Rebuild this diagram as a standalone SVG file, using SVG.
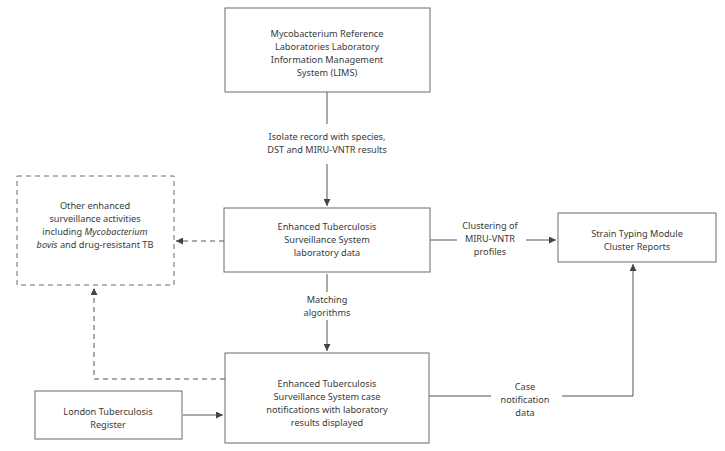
<svg xmlns="http://www.w3.org/2000/svg" width="725" height="451" viewBox="0 0 725 451">
<defs>
<style>
.box{fill:#fff;stroke:#6b6b6b;stroke-width:1}
.dbox{fill:#fff;stroke:#6b6b6b;stroke-width:1;stroke-dasharray:5,4}
.ln{fill:none;stroke:#555;stroke-width:1}
.dl{fill:none;stroke:#555;stroke-width:1;stroke-dasharray:5,4}
text{font-family:"Noto Sans","Open Sans",sans-serif;font-size:9.2px;fill:#3a3a3a;text-anchor:middle}
</style>
<marker id="ah" viewBox="0 0 10 10" refX="10" refY="5" markerWidth="7" markerHeight="7" markerUnits="userSpaceOnUse" orient="auto">
<path d="M0,0 L10,5 L0,10 z" fill="#444"/>
</marker>
</defs>
<rect width="725" height="451" fill="#fff"/>
<g id="connectors">
<line class="ln" x1="327" y1="92" x2="327" y2="124"/>
<line class="ln" x1="327" y1="164" x2="327" y2="206" marker-end="url(#ah)"/>
<line class="ln" x1="327" y1="274" x2="327" y2="292"/>
<line class="ln" x1="327" y1="320" x2="327" y2="351" marker-end="url(#ah)"/>
<line class="ln" x1="430" y1="240" x2="457" y2="240"/>
<line class="ln" x1="526" y1="240" x2="556" y2="240" marker-end="url(#ah)"/>
<line class="dl" x1="224" y1="241" x2="176" y2="241" marker-end="url(#ah)"/>
<polyline class="dl" points="225,379 94,379 94,288" marker-end="url(#ah)"/>
<line class="ln" x1="183" y1="415" x2="223" y2="415" marker-end="url(#ah)"/>
<line class="ln" x1="429" y1="396" x2="491" y2="396"/>
<polyline class="ln" points="562,396 633,396 633,264" marker-end="url(#ah)"/>
<text x="327" y="140">Isolate record with species,</text>
<text x="327" y="153">DST and MIRU-VNTR results</text>
<text x="327" y="303">Matching</text>
<text x="327" y="316">algorithms</text>
<text x="490" y="229">Clustering of</text>
<text x="490" y="242">MIRU-VNTR</text>
<text x="490" y="255">profiles</text>
<text x="525" y="390">Case</text>
<text x="525" y="403">notification</text>
<text x="525" y="416">data</text>
</g>
<g id="lims">
<rect class="box" x="225" y="8" width="205" height="84"/>
<text x="327" y="37">Mycobacterium Reference</text>
<text x="327" y="50">Laboratories Laboratory</text>
<text x="327" y="63">Information Management</text>
<text x="327" y="76">System (LIMS)</text>
</g>
<g id="etss-lab">
<rect class="box" x="224" y="208" width="206" height="64"/>
<text x="327" y="230">Enhanced Tuberculosis</text>
<text x="327" y="243">Surveillance System</text>
<text x="327" y="256">laboratory data</text>
</g>
<g id="other">
<rect class="dbox" x="17" y="176" width="157" height="109"/>
<text x="95" y="209">Other enhanced</text>
<text x="95" y="222">surveillance activities</text>
<text x="95" y="235">including <tspan font-style="italic">Mycobacterium</tspan></text>
<text x="95" y="248"><tspan font-style="italic">bovis</tspan> and drug-resistant TB</text>
</g>
<g id="strain">
<rect class="box" x="558" y="213" width="158" height="49"/>
<text x="637" y="237">Strain Typing Module</text>
<text x="637" y="250">Cluster Reports</text>
</g>
<g id="etss-case">
<rect class="box" x="225" y="353" width="204" height="90"/>
<text x="327" y="387">Enhanced Tuberculosis</text>
<text x="327" y="400">Surveillance System case</text>
<text x="327" y="413">notifications with laboratory</text>
<text x="327" y="426">results displayed</text>
</g>
<g id="london">
<rect class="box" x="35" y="391" width="147" height="48"/>
<text x="108" y="415">London Tuberculosis</text>
<text x="108" y="428">Register</text>
</g>
</svg>
